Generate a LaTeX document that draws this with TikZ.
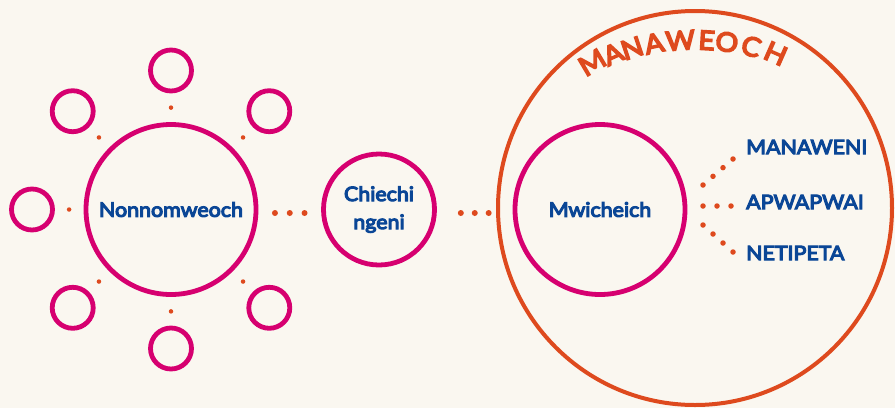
\documentclass[tikz,border=0pt]{standalone}
\usepackage{fontspec}
\setmainfont{Lato}
\newfontfamily\lbf{Lato}[FakeStretch=1.07]
\usetikzlibrary{calc}
\definecolor{bgc}{RGB}{250,247,240}
\definecolor{mag}{RGB}{214,0,112}
\definecolor{org}{RGB}{222,74,30}
\definecolor{blu}{RGB}{10,70,150}
% heavier text: fill and stroke the glyphs
\newcommand\hv[1]{\special{pdf:literal direct 2 Tr 1.1 w}#1\special{pdf:literal direct 0 Tr}}
\newcommand\hw[1]{\special{pdf:literal direct 2 Tr 1.6 w}#1\special{pdf:literal direct 0 Tr}}
\begin{document}
\begin{tikzpicture}[x=1pt,y=-1pt,
  ring/.style={circle,draw=mag,line width=4.8pt,inner sep=0pt},
  bigring/.style={ring,minimum size=170pt},
  satring/.style={ring,minimum size=41pt},
  midring/.style={ring,minimum size=111pt},
  lbl/.style={text=blu,font=\lbf\fontsize{20}{28}\selectfont},
  dot/.style={circle,fill=org,inner sep=0pt,minimum size=4.5pt},
  bdot/.style={circle,fill=org,inner sep=0pt,minimum size=6pt},
  fdot/.style={circle,fill=org,inner sep=0pt,minimum size=5.5pt},
  arcl/.style={text=org,font=\lbf\fontsize{26.5}{26.5}\selectfont,inner sep=0pt}
]
\fill[bgc] (0,0) rectangle (895,408);
\useasboundingbox (0,0) rectangle (895,408);

% outer orange ring
\node[circle,draw=org,line width=4pt,minimum size=394pt,inner sep=0pt] (outer) at (695,208) {};
\coordinate (tc) at (695,288);

% hub
\node[bigring,lbl] (hub) at (171,209.5) {\hv{Nonnomweoch}};
\foreach \n/\a in {1/90,2/45,4/-45,5/-90,6/-135,7/180,8/135}{
  \node[satring] (s\n) at ($(hub.center)+(-\a:139)$) {};
  \path (hub.center) -- (s\n.center) node[dot,pos=0.733] (d\n) {};
}

% middle
\node[midring,lbl,align=center] (chi) at (379,209.5) {\hv{Chiechi}\\\hv{ngeni}};
\node[bigring,lbl] (mw) at (600,209.5) {\hv{Mwicheich}};

\path ([yshift=-3.5pt]hub.east) -- ([yshift=-3.5pt]chi.west)
  node[bdot,pos=0.264] (a1) {} node[bdot,pos=0.5] (a2) {} node[bdot,pos=0.736] (a3) {};
\path ([yshift=-3.5pt]chi.east) -- ([yshift=-3.5pt]mw.west)
  node[bdot,pos=0.316] (b1) {} node[bdot,pos=0.5] (b2) {} node[bdot,pos=0.684] (b3) {};

% labels
\node[lbl,anchor=west,inner sep=0pt] (l1) at (746,147) {\hv{MANAWENI}};
\node[lbl,anchor=west,inner sep=0pt] (l2) at (746,202) {\hv{APWAPWAI}};
\node[lbl,anchor=west,inner sep=0pt] (l3) at (746,253) {\hv{NETIPETA}};

\coordinate (u0) at (703,185); \coordinate (u1) at (733,159);
\coordinate (m0) at (703,206); \coordinate (m1) at (731,206);
\coordinate (w0) at (703,225); \coordinate (w1) at (733,252);
\foreach \p in {0,0.3333,0.6667,1}{
  \path (u0) -- (u1) node[fdot,pos=\p] {};
  \path (w0) -- (w1) node[fdot,pos=\p] {};
}
\foreach \p in {0,0.5,1}{
  \path (m0) -- (m1) node[fdot,pos=\p] {};
}

% curved title
\foreach \ch/\a [count=\i] in {M/114.5,A/109.3,N/104.7,A/99.5,W/93.4,E/87.3,O/82.6,C/76.9,H/71.0}{
  \node[arcl,rotate={1.25*(\a-90)}] (t\i) at ($(tc)+(-\a:248)$) {\hw{\ch}};
}
\end{tikzpicture}
\end{document}
